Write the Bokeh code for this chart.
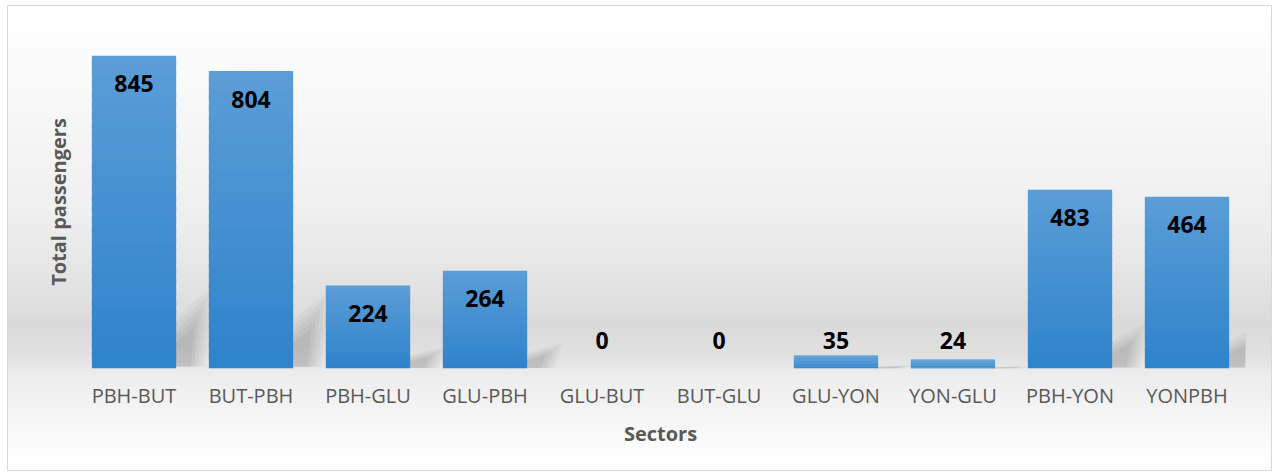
from bokeh.plotting import figure
from bokeh.models import Range1d, FixedTicker, ColumnDataSource
from bokeh.embed import file_html
from bokeh.resources import INLINE
from bokeh.core.properties import value

# ---- data ----
sectors = ["PBH-BUT", "BUT-PBH", "PBH-GLU", "GLU-PBH", "GLU-BUT",
           "BUT-GLU", "GLU-YON", "YON-GLU", "PBH-YON", "YONPBH"]
passengers = [845, 804, 224, 264, 0, 0, 35, 24, 483, 464]
x_title = "Sectors"
y_title = "Total passengers"

idx = list(range(len(sectors)))

W, H = 1265, 466
p = figure(width=W, height=H, output_backend="svg", toolbar_location=None,
           x_range=Range1d(-0.5, len(sectors) - 0.5), y_range=Range1d(0, 900),
           min_border_left=67, min_border_right=28, min_border_top=29,
           min_border_bottom=104)
p.styles = {
    "margin-left": "7px",
    "margin-top": "5px",
    "border": "1px solid #d9d9d9",
    "background": "linear-gradient(to bottom, #ffffff 0%, #f9f9f9 18%, #efefef 45%, "
                  "#e3e3e3 60%, #dadada 69%, #e0e0e0 75%, #e6e6e6 77.6%, #ececec 78.6%, "
                  "#f3f3f3 86%, #fbfbfb 94%, #ffffff 100%)",
}
p.border_fill_alpha = 0
p.background_fill_alpha = 0
p.outline_line_color = None
p.grid.visible = False

# ---- soft shadows behind bars ----
bw = 0.72
for a, sc in [(0.06, 1.0), (0.07, 0.88), (0.08, 0.76), (0.09, 0.64), (0.10, 0.52)]:
    xs, ys = [], []
    for i, v in zip(idx, passengers):
        if v <= 0:
            continue
        xr = i + bw / 2
        d = 0.30 * sc
        h = 0.26 * v * sc
        xs.append([xr - 0.02, xr - 0.02, xr + d, xr + d * 0.8])
        ys.append([v * 0.006, h * 0.6, h, v * 0.006])
    p.patches(xs, ys, fill_color="#7a7a7a", fill_alpha=a, line_color=None)

# ---- gradient bars (bands from top colour to bottom colour) ----
top_rgb = (0x5b, 0x9d, 0xd7)
bot_rgb = (0x2e, 0x83, 0xcb)
N = 30
for b in range(N):
    t = (b + 0.5) / N
    c = tuple(int(round(bot_rgb[j] + (top_rgb[j] - bot_rgb[j]) * t)) for j in range(3))
    col = "#%02x%02x%02x" % c
    p.vbar(x=idx, width=bw,
           bottom=[v * b / N for v in passengers],
           top=[min(v, v * (b + 1.6) / N) for v in passengers],
           fill_color=col, line_color=None)

# ---- data labels ----
lab_y = [v if v >= 150 else 0 for v in passengers]
lab_off = [28 if v >= 150 else -28 for v in passengers]
src = ColumnDataSource(dict(x=idx, y=lab_y, off=lab_off,
                            t=[str(v) for v in passengers]))
p.text(x="x", y="y", text="t", y_offset="off", source=src,
       text_align="center", text_baseline="middle",
       text_font=value("Open Sans"), text_font_style="bold",
       text_font_size="23px", text_color="#000000")

# ---- axes ----
p.xaxis.ticker = FixedTicker(ticks=idx)
p.xaxis.major_label_overrides = {i: s for i, s in zip(idx, sectors)}
p.xaxis.major_tick_line_color = None
p.xaxis.minor_tick_line_color = None
p.xaxis.axis_line_color = None
p.xaxis.major_label_text_font = "Open Sans"
p.xaxis.major_label_text_font_size = "20px"
p.xaxis.major_label_text_color = "#595959"
p.xaxis.major_label_standoff = 7
p.xaxis.axis_label = x_title
p.xaxis.axis_label_text_font = "Open Sans"
p.xaxis.axis_label_text_font_style = "bold"
p.xaxis.axis_label_text_font_size = "20px"
p.xaxis.axis_label_text_color = "#595959"
p.xaxis.axis_label_standoff = 8

p.yaxis.ticker = FixedTicker(ticks=[])
p.yaxis.major_tick_line_color = None
p.yaxis.minor_tick_line_color = None
p.yaxis.axis_line_color = None
p.yaxis.axis_label = y_title
p.yaxis.axis_label_text_font = "Open Sans"
p.yaxis.axis_label_text_font_style = "bold"
p.yaxis.axis_label_text_font_size = "20px"
p.yaxis.axis_label_text_color = "#595959"
p.yaxis.axis_label_standoff = 4

open("out.html", "w").write(file_html(p, INLINE))
